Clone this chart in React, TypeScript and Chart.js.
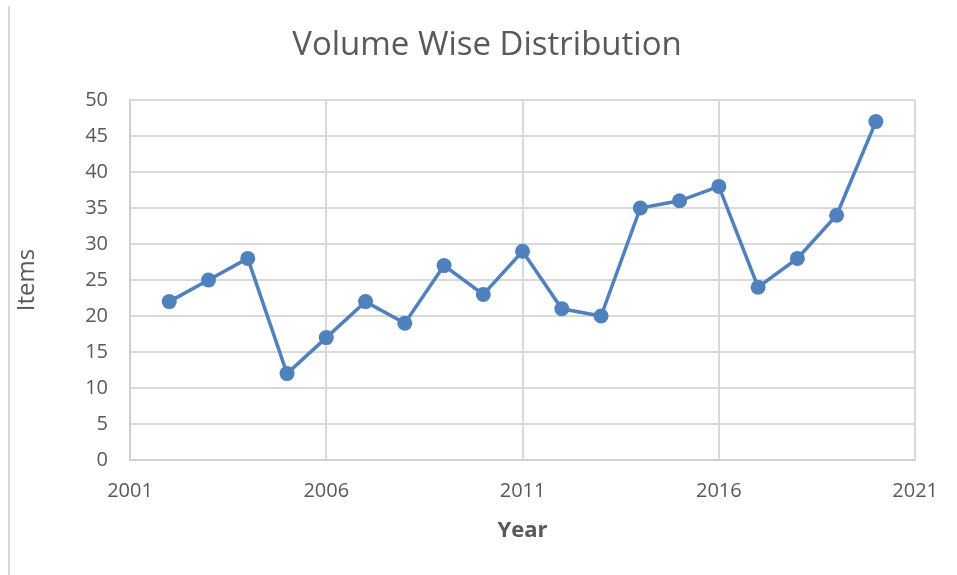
import React, { useEffect, useRef } from "react";
import { Chart, registerables } from "chart.js";

Chart.register(...registerables);

const years = [2002, 2003, 2004, 2005, 2006, 2007, 2008, 2009, 2010, 2011, 2012, 2013, 2014, 2015, 2016, 2017, 2018, 2019, 2020];
const items = [22, 25, 28, 12, 17, 22, 19, 27, 23, 29, 21, 20, 35, 36, 38, 24, 28, 34, 47];
const xTicks = [2001, 2006, 2011, 2016, 2021];
const title = "Volume Wise Distribution";
const xTitle = "Year";
const yTitle = "Items";

const FONT = "'Open Sans', sans-serif";
const TEXT = "#595959";
const GRID = "#D9D9D9";
const AXIS = "#D0D0D0";
const LINE = "#4F81BD";

const frame = {
  id: "frame",
  afterLayout(chart: any) {
    if (chart.titleBlock) {
      chart.titleBlock.left = 58;
    }
  },
  beforeDraw(chart: any) {
    const ctx = chart.ctx;
    ctx.save();
    ctx.fillStyle = "#ffffff";
    ctx.fillRect(0, 0, chart.width, chart.height);
    ctx.strokeStyle = GRID;
    ctx.lineWidth = 2;
    ctx.beginPath();
    ctx.moveTo(9, 6);
    ctx.lineTo(9, chart.height);
    ctx.stroke();
    ctx.restore();
  },
};

export default function App() {
  const ref = useRef<HTMLCanvasElement>(null);
  useEffect(() => {
    document.body.style.margin = "0";
    const chart = new Chart(ref.current!, {
      type: "line",
      data: {
        datasets: [
          {
            data: years.map((y, i) => ({ x: y, y: items[i] })),
            borderColor: LINE,
            backgroundColor: LINE,
            borderWidth: 3.5,
            pointRadius: 7.5,
            pointHoverRadius: 7.5,
            pointBorderWidth: 0,
            pointBackgroundColor: LINE,
            tension: 0,
          },
        ],
      },
      plugins: [frame],
      options: {
        animation: false,
        responsive: false,
        layout: { padding: { left: 10, right: 41, top: 0, bottom: 0 } },
        plugins: {
          legend: { display: false },
          tooltip: { enabled: false },
          title: {
            display: true,
            text: title,
            color: TEXT,
            font: { family: FONT, size: 33, weight: "normal" },
            padding: { top: 26, bottom: 34.4 },
          },
        },
        scales: {
          x: {
            type: "linear",
            min: 2001,
            max: 2021,
            afterBuildTicks: (s: any) => {
              s.ticks = xTicks.map((v) => ({ value: v }));
            },
            afterFit: (s: any) => {
              s.height = 115;
            },
            ticks: {
              color: TEXT,
              font: { family: FONT, size: 20 },
              padding: 19,
              maxRotation: 0,
              callback: (v: any) => String(v),
            },
            grid: { color: GRID, lineWidth: 2, drawTicks: false },
            border: { color: AXIS, width: 2 },
            title: {
              display: true,
              text: xTitle,
              color: TEXT,
              font: { family: FONT, size: 22, weight: "bold" },
              padding: { top: 0, bottom: 31 },
            },
          },
          y: {
            min: 0,
            max: 50,
            afterFit: (s: any) => {
              s.width = 120;
            },
            ticks: {
              stepSize: 5,
              color: TEXT,
              font: { family: FONT, size: 20 },
              padding: 22,
            },
            grid: { color: GRID, lineWidth: 2, drawTicks: false },
            border: { color: AXIS, width: 2 },
            title: {
              display: true,
              text: yTitle,
              color: TEXT,
              font: { family: FONT, size: 24, weight: "normal" },
              padding: { top: 2.6, bottom: 0 },
            },
          },
        },
      },
    } as any);
    return () => chart.destroy();
  }, []);
  return <canvas ref={ref} width={957} height={575} style={{ display: "block" }} />;
}
